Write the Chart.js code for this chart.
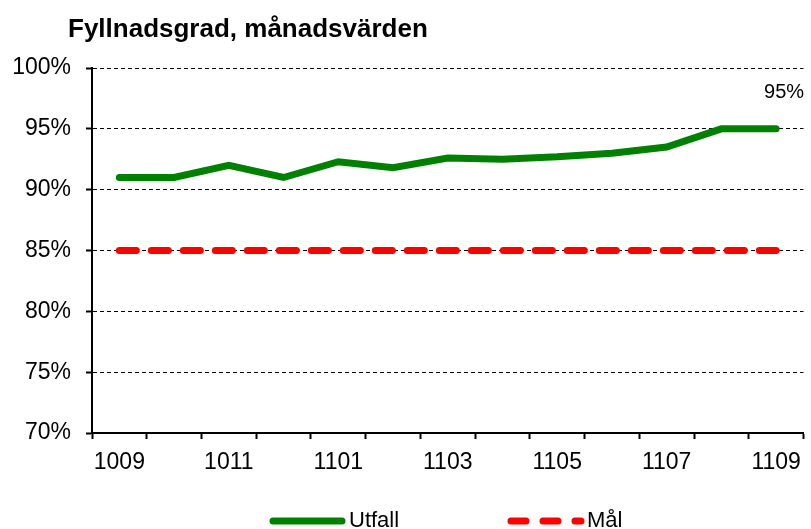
<!DOCTYPE html>
<html>
<head>
<meta charset="utf-8">
<script src="https://cdn.jsdelivr.net/npm/chart.js@4/dist/chart.umd.min.js"></script>
<style>
  html, body { margin: 0; padding: 0; background: #fff; }
  #wrap { width: 811px; height: 529px; }
</style>
</head>
<body>
<div id="wrap"><canvas id="mycanvas" width="811" height="529"></canvas></div>
<script>
var months = ['1009','1010','1011','1012','1101','1102','1103','1104','1105','1106','1107','1108','1109'];
var utfall = [91.0, 91.0, 92.0, 91.0, 92.3, 91.8, 92.6, 92.5, 92.7, 93.0, 93.5, 95.0, 95.0];
var mal = [85, 85, 85, 85, 85, 85, 85, 85, 85, 85, 85, 85, 85];
var yTicks = [70, 75, 80, 85, 90, 95, 100];

var FONT = '"Liberation Sans", Arial, sans-serif';

// title, end label and legend drawn by hand
var extras = {
  id: 'extras',
  afterDraw: function(chart) {
    var ctx = chart.ctx;
    ctx.save();
    ctx.fillStyle = '#000';
    ctx.font = 'bold 26px ' + FONT;
    ctx.textBaseline = 'alphabetic';
    ctx.textAlign = 'left';
    ctx.fillText('Fyllnadsgrad, månadsvärden', 68, 37);

    // label on the last point
    var meta = chart.getDatasetMeta(0);
    var last = meta.data[meta.data.length - 1];
    ctx.font = '20px ' + FONT;
    ctx.textAlign = 'center';
    ctx.textBaseline = 'middle';
    ctx.fillText(Math.round(utfall[utfall.length - 1]) + '%', last.x + 8, last.y - 36);

    // legend
    var ly = 521;
    ctx.lineWidth = 7;
    ctx.lineCap = 'round';
    ctx.strokeStyle = '#008000';
    ctx.beginPath();
    ctx.moveTo(273, ly);
    ctx.lineTo(342, ly);
    ctx.stroke();
    ctx.strokeStyle = '#ff0000';
    ctx.setLineDash([15, 17]);
    ctx.beginPath();
    ctx.moveTo(511, ly);
    ctx.lineTo(581, ly);
    ctx.stroke();
    ctx.setLineDash([]);
    ctx.font = '22px ' + FONT;
    ctx.textAlign = 'left';
    ctx.fillText('Utfall', 349, ly);
    ctx.fillText('Mål', 587, ly);
    ctx.restore();
  }
};

var ctx = document.getElementById('mycanvas');
var chart = new Chart(ctx, {
  type: 'line',
  data: {
    labels: months,
    datasets: [
      {
        label: 'Utfall',
        data: utfall,
        borderColor: '#008000',
        backgroundColor: '#008000',
        borderWidth: 7,
        borderCapStyle: 'round',
        borderJoinStyle: 'miter',
        pointRadius: 0,
        tension: 0
      },
      {
        label: 'Mål',
        data: mal,
        borderColor: '#ff0000',
        backgroundColor: '#ff0000',
        borderWidth: 7,
        borderCapStyle: 'round',
        borderDash: [17, 15],
        pointRadius: 0,
        tension: 0
      }
    ]
  },
  options: {
    responsive: false,
    animation: false,
    layout: { padding: { top: 68, right: 4, left: 0, bottom: 0 } },
    plugins: {
      legend: { display: false },
      title: { display: false },
      tooltip: { enabled: false }
    },
    scales: {
      x: {
        offset: true,
        grid: { offset: true, drawOnChartArea: false, drawTicks: true, tickLength: 6, tickColor: '#000', tickWidth: 2 },
        border: { display: true, color: '#000', width: 2 },
        ticks: {
          autoSkip: false,
          maxRotation: 0,
          color: '#000',
          padding: 10,
          font: { family: FONT, size: 23 },
          callback: function(v, i) { return i % 2 === 0 ? months[i] : ''; }
        },
        afterFit: function(scale) { scale.height = 96; }
      },
      y: {
        min: yTicks[0],
        max: yTicks[yTicks.length - 1],
        afterBuildTicks: function(scale) {
          scale.ticks = yTicks.map(function(v) { return { value: v }; });
        },
        grid: { color: '#000', lineWidth: 1, drawTicks: true, tickLength: 6, tickColor: '#000', tickWidth: 2 },
        border: { display: true, color: '#000', width: 2, dash: [4, 3] },
        ticks: {
          color: '#000',
          padding: 15,
          font: { family: FONT, size: 23 },
          callback: function(v) { return v + '%'; }
        },
        afterFit: function(scale) { scale.width = 92; }
      }
    }
  },
  plugins: [extras]
});
</script>
</body>
</html>
